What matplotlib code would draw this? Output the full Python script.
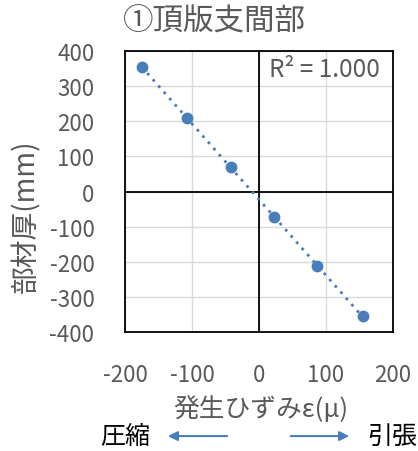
import numpy as np
import matplotlib
matplotlib.use('Agg')
import matplotlib.pyplot as plt
from matplotlib.patches import FancyArrowPatch

plt.rcParams['font.family'] = ['Noto Sans CJK JP', 'DejaVu Sans']
plt.rcParams['axes.unicode_minus'] = False

# data
strain = [-175, -108, -42, 22, 87, 155]       # 発生ひずみ ε(μ)
depth = [355, 210, 70, -72, -212, -355]       # 部材厚 (mm)
x_ticks = [-200, -100, 0, 100, 200]
y_ticks = [-400, -300, -200, -100, 0, 100, 200, 300, 400]
title = '①頂版支間部'
r2_label = 'R² = 1.000'

text_gray = '#595959'
blue = '#4a7ebb'

fig = plt.figure(figsize=(4.18, 4.52), dpi=100)
ax = fig.add_axes([0.299, 0.263, 0.641, 0.622])

ax.plot(strain, depth, 'o', color=blue, markersize=7.5, zorder=4)

# linear trend line
coef = np.polyfit(strain, depth, 1)
xs = np.array([min(strain), max(strain)])
ax.plot(xs, np.polyval(coef, xs), linestyle=(0, (1, 2)), color=blue, lw=2, zorder=3)

ax.set_xlim(-200, 200)
ax.set_ylim(-400, 400)
ax.set_xticks(x_ticks)
ax.set_yticks(y_ticks)
ax.grid(True, color='#d9d9d9', lw=1)
ax.set_axisbelow(True)
ax.axhline(0, color='black', lw=1.3, zorder=2)
ax.axvline(0, color='black', lw=1.3, zorder=2)
for s in ax.spines.values():
    s.set_color('black')
    s.set_linewidth(1.3)
ax.tick_params(length=0, labelsize=16, labelcolor=text_gray)
ax.tick_params(axis='y', pad=22)
ax.tick_params(axis='x', pad=22)

ax.text(0.951, 0.936, r2_label, transform=ax.transAxes, ha='right', va='center',
        fontsize=17.5, color=text_gray)

fig.text(0.623, 0.093, '発生ひずみε(μ)', ha='center', va='center', fontsize=18.5, color=text_gray)
fig.text(0.062, 0.522, '部材厚(mm)', ha='center', va='center', rotation=90,
         fontsize=20, color=text_gray)
fig.text(0.514, 0.951, title, ha='center', va='center', fontsize=22, color=text_gray)

# compression / tension arrows
fig.text(0.299, 0.033, '圧縮', ha='center', va='center', fontsize=18, color='black')
fig.text(0.938, 0.033, '引張', ha='center', va='center', fontsize=18, color='black')
fig.patches.append(FancyArrowPatch(
    (0.55, 0.033), (0.395, 0.033), transform=fig.transFigure,
    arrowstyle='-|>', mutation_scale=14, color=blue, lw=1.5))
fig.patches.append(FancyArrowPatch(
    (0.689, 0.033), (0.842, 0.033), transform=fig.transFigure,
    arrowstyle='-|>', mutation_scale=14, color=blue, lw=1.5))

fig.savefig('out.png', dpi=100)
